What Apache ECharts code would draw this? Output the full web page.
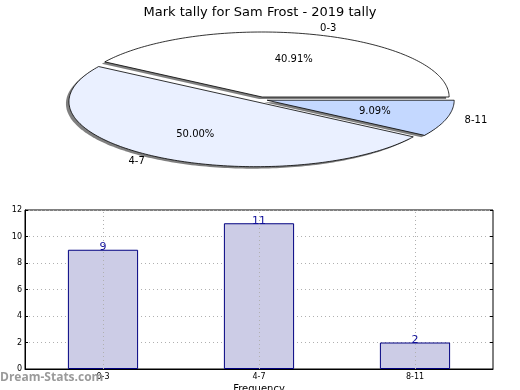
<!DOCTYPE html>
<html><head><meta charset="utf-8">
<script src="https://cdn.jsdelivr.net/npm/echarts@6/dist/echarts.min.js"></script>
<style>html,body{margin:0;padding:0;background:#fff}#c{width:520px;height:390px}</style>
</head><body><div id="c"></div>
<script>
const title = 'Mark tally for Sam Frost - 2019 tally';
const categories = ['0-3', '4-7', '8-11'];
const counts = [9, 11, 2];
const pieColors = ['#ffffff', '#eaf0ff', '#c4d8ff'];
const yTicks = [0, 2, 4, 6, 8, 10, 12];

const FONT = '"DejaVu Sans", sans-serif';
const total = counts.reduce((a, b) => a + b, 0);
const PIE = {cx: 260, cy: 99.5, rx: 187, ry: 65, explode: 0.04};

function sliceAngles(i) {
  let s = 0;
  for (let k = 0; k < i; k++) s += counts[k];
  const a0 = s / total * Math.PI * 2;
  const a1 = (s + counts[i]) / total * Math.PI * 2;
  return [a0, a1];
}
function slicePoints(cx, cy, a0, a1) {
  const pts = [[cx, cy]];
  const n = Math.max(8, Math.ceil((a1 - a0) / 0.02));
  for (let j = 0; j <= n; j++) {
    const t = a0 + (a1 - a0) * j / n;
    pts.push([cx + PIE.rx * Math.cos(t), cy - PIE.ry * Math.sin(t)]);
  }
  return pts;
}
function renderSlice(params, api) {
  const i = params.dataIndex;
  const [a0, a1] = sliceAngles(i);
  const mid = (a0 + a1) / 2;
  const cx = PIE.cx + PIE.explode * PIE.rx * Math.cos(mid);
  const cy = PIE.cy - PIE.explode * PIE.ry * Math.sin(mid);
  const pts = slicePoints(cx, cy, a0, a1);
  const shadowPts = pts.map(p => [p[0] - 3, p[1] + 2]);
  const pct = (api.value(0) / total * 100).toFixed(2) + '%';
  const px = cx + 0.6 * PIE.rx * Math.cos(mid), py = cy - 0.6 * PIE.ry * Math.sin(mid);
  const lx = cx + 1.1 * PIE.rx * Math.cos(mid), ly = cy - 1.1 * PIE.ry * Math.sin(mid);
  return {
    type: 'group',
    children: [
      {type: 'polygon', shape: {points: shadowPts}, style: {fill: 'rgba(0,0,0,0.5)', stroke: null}, silent: true},
      {type: 'polygon', shape: {points: pts}, style: {fill: pieColors[i], stroke: '#000', lineWidth: 0.8}},
      {type: 'text', style: {x: px, y: py, text: pct, fill: '#000', font: '10px ' + FONT, textAlign: 'center', textVerticalAlign: 'middle'}},
      {type: 'text', style: {x: lx, y: ly, text: categories[i], fill: '#000', font: '10px ' + FONT,
        textAlign: Math.cos(mid) >= 0 ? 'left' : 'right', textVerticalAlign: 'middle'}}
    ]
  };
}

const chart = echarts.init(document.getElementById('c'), null, {renderer: 'canvas'});
const gridLineStyle = {color: '#b0b0b0', type: [1, 3], width: 1};
chart.setOption({
  animation: false,
  backgroundColor: '#fff',
  title: {text: title, left: 'center', top: 1, textStyle: {fontFamily: FONT, fontSize: 13, fontWeight: 'normal', color: '#000'}},
  graphic: [{type: 'text', left: 0, top: 372, z: 100, style: {text: 'Dream-Stats.com', fill: '#9a9a9a', font: 'bold 12px "Open Sans", sans-serif'}}],
  grid: {left: 25, right: 27, top: 210, bottom: 21, show: true, borderColor: '#000', borderWidth: 1,
         containLabel: false, outerBoundsMode: 'none'},
  xAxis: [{
    type: 'category', data: categories, position: 'bottom',
    name: 'Frequency', nameLocation: 'middle', nameGap: 15,
    nameTextStyle: {fontFamily: FONT, fontSize: 10, color: '#000'},
    axisLine: {lineStyle: {color: '#000'}},
    axisTick: {show: true, alignWithLabel: true, inside: true, length: 3, lineStyle: {color: '#000'}},
    axisLabel: {fontFamily: FONT, fontSize: 8, color: '#000', margin: 4},
    splitLine: {show: false}
  }],
  yAxis: [{
    type: 'value', min: 0, max: 12, interval: 2,
    name: 'Stat Intervals', nameLocation: 'middle', nameGap: 16,
    nameTextStyle: {fontFamily: FONT, fontSize: 10, color: '#000'},
    axisLine: {show: true, lineStyle: {color: '#000'}},
    axisTick: {show: true, inside: true, length: 3, lineStyle: {color: '#000'}},
    axisLabel: {fontFamily: FONT, fontSize: 8, color: '#000', margin: 3, customValues: yTicks},
    splitLine: {show: true, lineStyle: gridLineStyle}
  }, {
    type: 'value', min: 0, max: 12, interval: 2, position: 'right',
    axisLine: {show: false}, axisLabel: {show: false}, splitLine: {show: false},
    axisTick: {show: true, inside: true, length: 3, lineStyle: {color: '#000'}}
  }],
  series: [{
    type: 'custom', coordinateSystem: 'none', renderItem: renderSlice,
    data: counts.map(v => [v]), z: 1
  }, {
    type: 'bar', data: counts, barWidth: '45%', xAxisIndex: 0, yAxisIndex: 0,
    itemStyle: {color: '#ccccE6', borderColor: '#000080', borderWidth: 1},
    label: {show: true, position: 'top', distance: -3, color: '#10109a', fontFamily: FONT, fontSize: 11},
    markLine: {
      silent: true, symbol: ['none', 'none'], label: {show: false}, z: 3,
      lineStyle: gridLineStyle,
      data: categories.map(c => ({xAxis: c}))
    }
  }]
});
</script></body></html>
